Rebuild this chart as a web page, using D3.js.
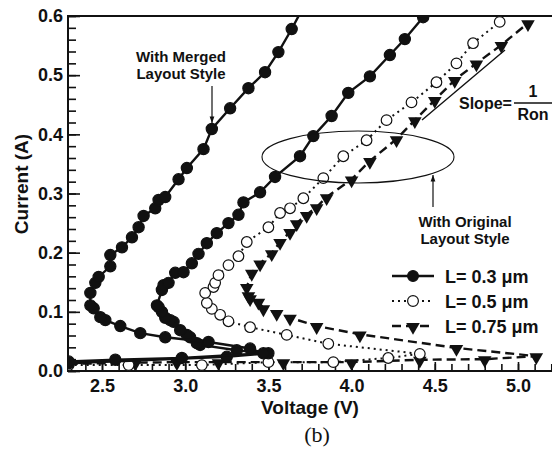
<!DOCTYPE html>
<meta charset="utf-8">
<style>
body { margin: 0; background: #fff; }
text { font-family: "Liberation Sans", Arial, sans-serif; font-weight: bold; fill: #111; }
.axis line { stroke: #111; stroke-width: 1.6; }
.axis path { display: none; }
</style>
<body>
<script src="https://d3js.org/d3.v7.min.js"></script>
<script>

// tick values
var xMajor = [2.5, 3.0, 3.5, 4.0, 4.5, 5.0];
var yMajor = [0.0, 0.1, 0.2, 0.3, 0.4, 0.5, 0.6];

var merged03 = [[2.30,0.016],[2.58,0.019],[2.98,0.022],[3.47,0.030],[3.39,0.038],[3.14,0.049],
  [2.88,0.057],[2.73,0.064],[2.61,0.076],[2.52,0.086],[2.49,0.091],[2.45,0.106],[2.43,0.111],
  [2.43,0.132],[2.46,0.149],[2.48,0.159],[2.55,0.177],[2.55,0.196],[2.62,0.209],[2.68,0.226],
  [2.72,0.243],[2.75,0.262],[2.82,0.275],[2.84,0.289],[2.88,0.294],[2.96,0.324],[3.01,0.343],
  [3.11,0.375],[3.16,0.409],[3.27,0.444],[3.38,0.478],[3.48,0.505],[3.56,0.539],[3.64,0.578],[3.71,0.615]];
var orig03 = [[2.30,0.013],[3.25,0.024],[3.50,0.030],[3.31,0.035],[3.09,0.044],[3.07,0.047],
  [3.03,0.057],[3.01,0.061],[2.97,0.069],[2.93,0.083],[2.91,0.086],[2.88,0.090],[2.86,0.100],
  [2.84,0.108],[2.83,0.111],[2.86,0.137],[2.87,0.145],[2.90,0.149],[2.94,0.166],[2.99,0.167],
  [3.04,0.182],[3.08,0.198],[3.13,0.216],[3.19,0.233],[3.26,0.250],[3.32,0.264],[3.35,0.285],
  [3.45,0.302],[3.54,0.328],[3.69,0.363],[3.77,0.397],[3.88,0.431],[3.98,0.470],[4.11,0.498],
  [4.23,0.534],[4.32,0.561],[4.43,0.598]];
var orig05 = [[2.30,0.010],[2.66,0.010],[3.10,0.010],[3.50,0.015],[3.89,0.015],[4.22,0.022],
  [4.41,0.029],[3.86,0.046],[3.61,0.061],[3.39,0.074],[3.26,0.084],[3.21,0.095],[3.16,0.105],
  [3.13,0.115],[3.12,0.132],[3.17,0.142],[3.18,0.149],[3.20,0.162],[3.26,0.179],[3.32,0.194],
  [3.37,0.218],[3.50,0.243],[3.57,0.267],[3.63,0.275],[3.71,0.292],[3.83,0.326],[3.95,0.363],
  [4.09,0.390],[4.21,0.424],[4.36,0.454],[4.51,0.488],[4.63,0.520],[4.73,0.554],[4.89,0.590]];
var orig075 = [[2.30,0.012],[2.70,0.014],[2.95,0.015],[3.20,0.015],[3.59,0.015],[4.00,0.015],
  [4.41,0.019],[4.80,0.020],[5.11,0.025],[4.63,0.039],[4.05,0.062],[3.79,0.076],[3.63,0.090],
  [3.55,0.098],[3.47,0.106],[3.44,0.117],[3.39,0.123],[3.38,0.128],[3.37,0.142],[3.40,0.166],
  [3.45,0.182],[3.52,0.199],[3.57,0.218],[3.63,0.235],[3.67,0.250],[3.73,0.264],[3.79,0.277],
  [3.85,0.294],[4.00,0.324],[4.11,0.355],[4.27,0.392],[4.38,0.424],[4.50,0.458],[4.62,0.492],
  [4.75,0.520],[4.90,0.551],[5.06,0.588]];

var legendLabels = ["L= 0.3 \u03bcm", "L= 0.5 \u03bcm", "L= 0.75 \u03bcm"];

var W = 552, H = 455;
var pLeft = 68, pTop = 16, pBottom = 371, pRight = 556;

var svg = d3.select("body").append("svg")
    .attr("width", W)
    .attr("height", H);

var x = d3.scaleLinear().domain([2.5, 5.0]).range([102, 518]);
var y = d3.scaleLinear().domain([0, 0.6]).range([pBottom, pTop]);

// minor ticks
var xMinor = d3.range(23, 53).map(function (d) { return d / 10; });
var yMinor = d3.range(0, 31).map(function (d) { return d / 50; });

svg.append("g").attr("class", "axis")
    .attr("transform", "translate(" + pLeft + ",0)")
    .call(d3.axisLeft(y).tickValues(yMinor).tickSize(-8).tickFormat(""));
svg.append("g").attr("class", "axis")
    .attr("transform", "translate(" + pLeft + ",0)")
    .call(d3.axisLeft(y).tickValues(yMajor).tickSize(-12).tickPadding(5).tickFormat(d3.format(".1f")))
    .selectAll("text").style("font-size", "18px").attr("fill", "#111");

svg.append("g").attr("class", "axis")
    .attr("transform", "translate(0," + pBottom + ")")
    .call(d3.axisBottom(x).tickValues(xMinor).tickSize(-7).tickFormat(""));
svg.append("g").attr("class", "axis")
    .attr("transform", "translate(0," + pBottom + ")")
    .call(d3.axisBottom(x).tickValues(xMajor).tickSize(-9).tickPadding(8).tickFormat(d3.format(".1f")))
    .selectAll("text").style("font-size", "18px").attr("fill", "#111");

// frame
svg.append("path")
    .attr("d", "M" + pRight + "," + pTop + "H" + pLeft + "V" + pBottom + "H" + pRight)
    .attr("fill", "none")
    .attr("stroke", "#111")
    .attr("stroke-width", 2);

svg.append("clipPath").attr("id", "clip")
    .append("rect").attr("x", pLeft).attr("y", pTop)
    .attr("width", pRight - pLeft).attr("height", pBottom - pTop);

var plot = svg.append("g").attr("clip-path", "url(#clip)");

var line = d3.line()
    .x(function (d) { return x(d[0]); })
    .y(function (d) { return y(d[1]); });

var tri = d3.symbol().type(d3.symbolTriangle).size(80);

function drawSeries(g, data, style) {
    g.append("path")
        .datum(data)
        .attr("d", line)
        .attr("fill", "none")
        .attr("stroke", "#111")
        .attr("stroke-width", style.width)
        .attr("stroke-dasharray", style.dash);
    var m = g.selectAll(null).data(data).enter();
    if (style.marker === "tri") {
        m.append("path")
            .attr("d", tri)
            .attr("transform", function (d) {
                return "translate(" + x(d[0]) + "," + (y(d[1]) + 1) + ") rotate(180)";
            })
            .attr("fill", "#111");
    } else {
        m.append("circle")
            .attr("cx", function (d) { return x(d[0]); })
            .attr("cy", function (d) { return y(d[1]); })
            .attr("r", style.marker === "open" ? 5.3 : 5.6)
            .attr("fill", style.marker === "open" ? "#fff" : "#111")
            .attr("stroke", "#111")
            .attr("stroke-width", 1.2);
    }
}

var styles = [
    {width: 2.4, dash: null, marker: "filled"},
    {width: 2, dash: "2,4", marker: "open"},
    {width: 2.4, dash: "9,5", marker: "tri"}
];

drawSeries(plot, orig075, styles[2]);
drawSeries(plot, orig05, styles[1]);
drawSeries(plot, orig03, styles[0]);
drawSeries(plot, merged03, styles[0]);

// legend
var legend = svg.append("g");
legendLabels.forEach(function (lab, i) {
    var ly = 276 + i * 25;
    var g = legend.append("g");
    g.append("path")
        .attr("d", "M392," + ly + "H434")
        .attr("stroke", "#111")
        .attr("stroke-width", styles[i].width)
        .attr("stroke-dasharray", styles[i].dash);
    if (styles[i].marker === "tri") {
        g.append("path").attr("d", tri)
            .attr("transform", "translate(413," + (ly + 1) + ") rotate(180)")
            .attr("fill", "#111");
    } else {
        g.append("circle").attr("cx", 413).attr("cy", ly).attr("r", 5.4)
            .attr("fill", styles[i].marker === "open" ? "#fff" : "#111")
            .attr("stroke", "#111").attr("stroke-width", 1.2);
    }
    g.append("text").attr("x", 445).attr("y", ly + 6.5)
        .style("font-size", "18px").text(lab);
});

// annotations
function arrow(x0, y0, x1, y1) {
    svg.append("line").attr("x1", x0).attr("y1", y0).attr("x2", x1).attr("y2", y1)
        .attr("stroke", "#111").attr("stroke-width", 1.2);
    var a = Math.atan2(y1 - y0, x1 - x0), s = 7;
    svg.append("path")
        .attr("d", "M" + x1 + "," + y1 +
            "L" + (x1 - s * Math.cos(a - 0.35)) + "," + (y1 - s * Math.sin(a - 0.35)) +
            "L" + (x1 - s * Math.cos(a + 0.35)) + "," + (y1 - s * Math.sin(a + 0.35)) + "Z")
        .attr("fill", "#111");
}

svg.append("text").attr("x", 181).attr("y", 62).attr("text-anchor", "middle")
    .style("font-size", "15px").text("With Merged");
svg.append("text").attr("x", 181).attr("y", 79).attr("text-anchor", "middle")
    .style("font-size", "15px").text("Layout Style");
arrow(212, 86, 212, 123);

svg.append("ellipse").attr("cx", 358).attr("cy", 157).attr("rx", 96).attr("ry", 26)
    .attr("fill", "none").attr("stroke", "#111").attr("stroke-width", 1.1);
arrow(433, 207, 433, 175);
svg.append("text").attr("x", 465).attr("y", 227).attr("text-anchor", "middle")
    .style("font-size", "15px").text("With Original");
svg.append("text").attr("x", 465).attr("y", 244).attr("text-anchor", "middle")
    .style("font-size", "15px").text("Layout Style");

svg.append("line").attr("x1", 422).attr("y1", 120).attr("x2", 505).attr("y2", 50)
    .attr("stroke", "#111").attr("stroke-width", 1.4);
svg.append("text").attr("x", 459).attr("y", 109).style("font-size", "16px").text("Slope=");
svg.append("line").attr("x1", 514).attr("y1", 103).attr("x2", 552).attr("y2", 103)
    .attr("stroke", "#111").attr("stroke-width", 1.4);
svg.append("text").attr("x", 533).attr("y", 97).attr("text-anchor", "middle")
    .style("font-size", "16px").text("1");
svg.append("text").attr("x", 533).attr("y", 120).attr("text-anchor", "middle")
    .style("font-size", "16px").text("Ron");

// axis titles
svg.append("text").attr("x", 310).attr("y", 414).attr("text-anchor", "middle")
    .style("font-size", "19px").text("Voltage (V)");
svg.append("text")
    .attr("transform", "translate(28,184) rotate(-90)")
    .attr("text-anchor", "middle")
    .style("font-size", "19px").text("Current (A)");
svg.append("text").attr("x", 317).attr("y", 442).attr("text-anchor", "middle")
    .style("font-family", "'Liberation Serif', 'Times New Roman', serif")
    .style("font-weight", "normal")
    .style("font-size", "22px").text("(b)");

</script>
</body>
